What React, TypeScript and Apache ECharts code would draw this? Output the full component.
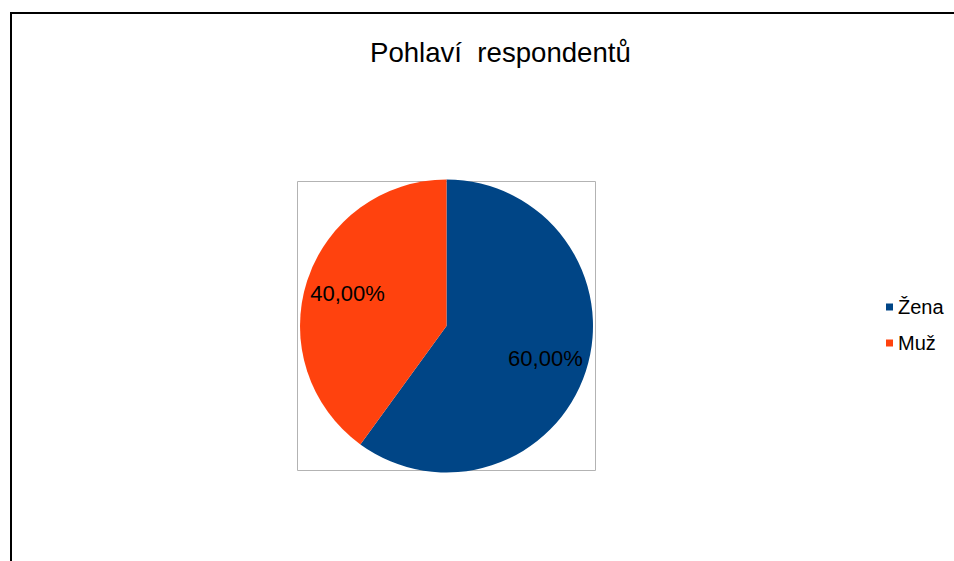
import React, { useEffect, useRef } from "react";
import * as echarts from "echarts";

const categories = ["Žena", "Muž"];
const values = [60, 40];
const colors = ["#004586", "#ff420e"];
const titleText = "Pohlaví  respondentů";

export default function App() {
  const ref = useRef<HTMLDivElement>(null);
  useEffect(() => {
    if (!ref.current) return;
    const chart = echarts.init(ref.current, null, { renderer: "svg" });
    const data = categories.map((name, i) => ({
      name,
      value: values[i],
      itemStyle: { color: colors[i] },
    }));
    const cx = 446.5;
    const cy = 326;
    const r = 146.5;
    chart.setOption({
      animation: false,
      backgroundColor: "#ffffff",
      title: {
        text: titleText,
        left: 365,
        top: 33,
        textStyle: {
          fontFamily: "Liberation Sans",
          fontSize: 27.6,
          fontWeight: "normal",
          color: "#000000",
        },
      },
      legend: {
        orient: "vertical",
        left: 881,
        top: 292,
        icon: "rect",
        itemWidth: 7,
        itemHeight: 7,
        itemGap: 16,
        data: categories.map((name, i) => ({ name, itemStyle: { color: colors[i] } })),
        textStyle: {
          fontFamily: "Liberation Sans",
          fontSize: 20,
          color: "#000000",
        },
      },
      graphic: [
        {
          type: "rect",
          shape: { x: 297.5, y: 181.5, width: 298, height: 289 },
          style: { fill: "none", stroke: "#b3b3b3", lineWidth: 1 },
          z: 0,
        },
        {
          type: "line",
          shape: { x1: 10, y1: 13, x2: 954, y2: 13 },
          style: { stroke: "#000000", lineWidth: 2 },
        },
        {
          type: "line",
          shape: { x1: 11, y1: 12, x2: 11, y2: 561 },
          style: { stroke: "#000000", lineWidth: 2 },
        },
      ],
      series: [
        {
          type: "pie",
          center: [cx, cy],
          radius: [0, r],
          startAngle: 90,
          clockwise: true,
          data,
          label: { show: false },
          labelLine: { show: false },
          emphasis: { disabled: true },
          z: 2,
        },
        {
          type: "pie",
          center: [cx, cy],
          radius: [0, 202],
          startAngle: 90,
          clockwise: true,
          silent: true,
          legendHoverLink: false,
          data: categories.map((name, i) => ({
            name,
            value: values[i],
            itemStyle: { color: "rgba(0,0,0,0)" },
          })),
          label: {
            show: true,
            position: "inside",
            formatter: (p: any) => p.value.toFixed(2).replace(".", ",") + "%",
            fontFamily: "Liberation Sans",
            fontSize: 22,
            color: "#000000",
          },
          labelLine: { show: false },
          emphasis: { disabled: true },
          z: 3,
        },
      ],
    });
    return () => chart.dispose();
  }, []);
  return (
    <div
      ref={ref}
      style={{ position: "fixed", left: 0, top: 0, width: 954, height: 561 }}
    />
  );
}
